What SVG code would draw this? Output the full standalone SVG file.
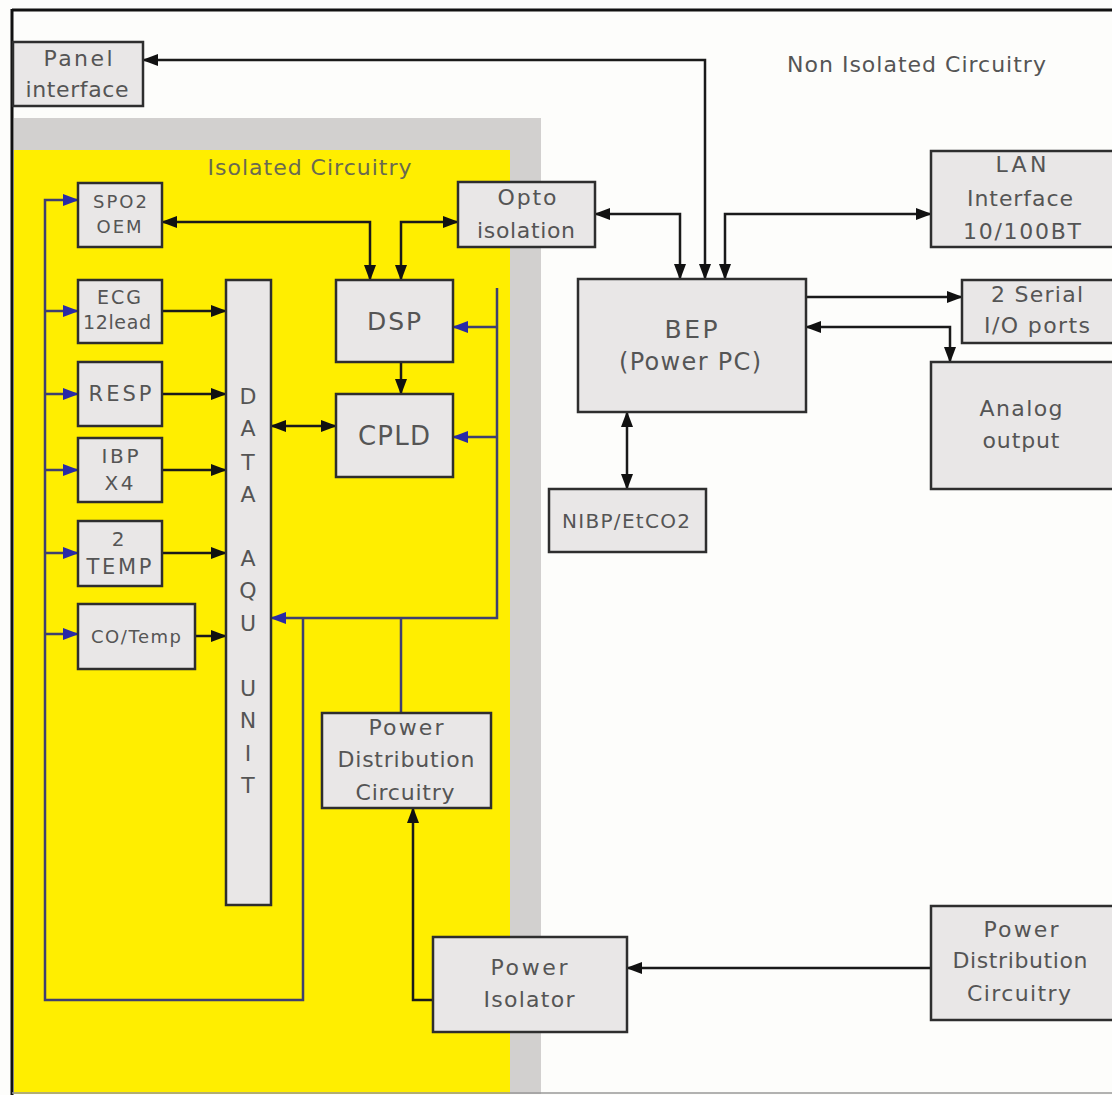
<svg xmlns="http://www.w3.org/2000/svg" width="1112" height="1095" viewBox="0 0 1112 1095">
<style>
.box{fill:#e9e7e7;stroke:#2e2e2e;stroke-width:2.5}
.t{font-family:"DejaVu Sans",sans-serif;fill:#555;text-anchor:middle;font-size:22px}
.s{font-size:18px}
.m{font-size:20px}
.k{fill:none;stroke:#1a1a1a;stroke-width:2.5}
.b{fill:none;stroke:#3f3f70;stroke-width:2.5}
.kd{marker-start:url(#ak);marker-end:url(#ak)}
.ke{marker-end:url(#ak)}
.be{marker-end:url(#abl)}
</style>
<defs>
<marker id="ak" viewBox="0 0 16 12" refX="15" refY="6" markerWidth="16" markerHeight="12" markerUnits="userSpaceOnUse" orient="auto-start-reverse"><path d="M0,0 L16,6 L0,12 z" fill="#111"/></marker>
<marker id="abl" viewBox="0 0 16 12" refX="15" refY="6" markerWidth="16" markerHeight="12" markerUnits="userSpaceOnUse" orient="auto-start-reverse"><path d="M0,0 L16,6 L0,12 z" fill="#2a2aa6"/></marker>
</defs>
<rect x="0" y="0" width="1112" height="1095" fill="#fdfdfb"/>
<g id="regions">
<rect x="14" y="118" width="527" height="976" fill="#d2d0cf"/>
<rect x="14" y="150" width="496" height="944" fill="#ffee00"/>
<line x1="12" y1="10" x2="1112" y2="10" stroke="#111" stroke-width="3"/>
<line x1="12" y1="9" x2="12" y2="1095" stroke="#111" stroke-width="3"/>
<line x1="12" y1="1093" x2="1112" y2="1093" stroke="#999" stroke-width="1.5"/>
<text class="t" x="917" y="72" letter-spacing="1">Non Isolated Circuitry</text>
<text class="t" x="310" y="175" letter-spacing="1" style="fill:#6a6a50">Isolated Circuitry</text>
</g>
<g id="connectors">
<path class="k kd" d="M143,60 H705 V279"/>
<path class="k kd" d="M595,214 H680 V279"/>
<path class="k kd" d="M931,214 H725 V279"/>
<path class="k kd" d="M162,222 H370 V280"/>
<path class="k kd" d="M458,222 H401 V280"/>
<path class="k ke" d="M806,297 H962"/>
<path class="k kd" d="M950,362 V327 H806"/>
<path class="k kd" d="M627,412 V489"/>
<path class="k ke" d="M401,362 V394"/>
<path class="k kd" d="M271,426 H336"/>
<path class="k ke" d="M162,311 H226"/>
<path class="k ke" d="M162,394 H226"/>
<path class="k ke" d="M162,470 H226"/>
<path class="k ke" d="M162,553 H226"/>
<path class="k ke" d="M195,636 H226"/>
<path class="k ke" d="M433,1000 H413 V808"/>
<path class="k ke" d="M931,968 H627"/>
<path class="b be" d="M497,288 V618 H271"/>
<path class="b be" d="M497,327 H453"/>
<path class="b be" d="M497,437 H453"/>
<path class="b" d="M401,713 V618"/>
<path class="b be" d="M303,618 V1000 H45 V200 H78"/>
<path class="b be" d="M45,311 H78"/>
<path class="b be" d="M45,394 H78"/>
<path class="b be" d="M45,470 H78"/>
<path class="b be" d="M45,553 H78"/>
<path class="b be" d="M45,634 H78"/>
</g>
<g id="panel"><rect class="box" x="13" y="42" width="130" height="64"/>
<text class="t" x="78" y="66" textLength="69">Panel</text><text class="t" x="77" y="97" textLength="103">interface</text></g>
<g id="spo2"><rect class="box" x="78" y="183" width="84" height="64"/>
<text class="t s" x="120" y="208" textLength="54">SPO2</text><text class="t s" x="119" y="233" textLength="45">OEM</text></g>
<g id="opto"><rect class="box" x="458" y="182" width="137" height="65"/>
<text class="t" x="527" y="205" textLength="59">Opto</text><text class="t" x="526" y="238" textLength="98">isolation</text></g>
<g id="lan"><rect class="box" x="931" y="151" width="184" height="96"/>
<text class="t" x="1021" y="172" textLength="51">LAN</text><text class="t" x="1020" y="206" textLength="106">Interface</text><text class="t" x="1022" y="239" textLength="118">10/100BT</text></g>
<g id="ecg"><rect class="box" x="78" y="280" width="84" height="63"/>
<text class="t" x="119" y="304" style="font-size:19px" textLength="44">ECG</text><text class="t" x="117" y="329" style="font-size:19px" textLength="68">12lead</text></g>
<g id="daq"><rect class="box" x="226" y="280" width="45" height="625"/>
<text class="t" x="248" y="404">D</text><text class="t" x="248" y="436">A</text><text class="t" x="248" y="470">T</text><text class="t" x="248" y="502">A</text>
<text class="t" x="248" y="566">A</text><text class="t" x="248" y="598">Q</text><text class="t" x="248" y="631">U</text>
<text class="t" x="248" y="696">U</text><text class="t" x="248" y="728">N</text><text class="t" x="248" y="761">I</text><text class="t" x="248" y="793">T</text></g>
<g id="dsp"><rect class="box" x="336" y="280" width="117" height="82"/>
<text class="t" x="394" y="330" style="font-size:25px" textLength="54">DSP</text></g>
<g id="cpld"><rect class="box" x="336" y="394" width="117" height="83"/>
<text class="t" x="394" y="445" style="font-size:26px" textLength="72">CPLD</text></g>
<g id="bep"><rect class="box" x="578" y="279" width="228" height="133"/>
<text class="t" x="691" y="338" style="font-size:25px" textLength="53">BEP</text><text class="t" x="690" y="370" style="font-size:24px" textLength="142">(Power PC)</text></g>
<g id="serial"><rect class="box" x="962" y="280" width="153" height="63"/>
<text class="t" x="1037" y="302" textLength="92">2 Serial</text><text class="t" x="1037" y="333" textLength="106">I/O ports</text></g>
<g id="analog"><rect class="box" x="931" y="362" width="184" height="127"/>
<text class="t" x="1021" y="416" textLength="83">Analog</text><text class="t" x="1021" y="448" textLength="77">output</text></g>
<g id="resp"><rect class="box" x="78" y="362" width="84" height="64"/>
<text class="t" x="120" y="401" style="font-size:21px" textLength="63">RESP</text></g>
<g id="ibp"><rect class="box" x="78" y="438" width="84" height="64"/>
<text class="t m" x="120" y="463" textLength="37">IBP</text><text class="t m" x="119" y="490" textLength="29">X4</text></g>
<g id="temp"><rect class="box" x="78" y="521" width="84" height="65"/>
<text class="t m" x="118" y="546">2</text><text class="t" x="119" y="574" style="font-size:21px" textLength="65">TEMP</text></g>
<g id="cotemp"><rect class="box" x="78" y="604" width="117" height="65"/>
<text class="t s" x="136" y="643" textLength="90">CO/Temp</text></g>
<g id="nibp"><rect class="box" x="549" y="489" width="157" height="63"/>
<text class="t m" x="626" y="528" textLength="128">NIBP/EtCO2</text></g>
<g id="pdc-inner"><rect class="box" x="322" y="713" width="169" height="95"/>
<text class="t" x="406" y="735" textLength="75">Power</text><text class="t" x="406" y="767" textLength="137">Distribution</text><text class="t" x="405" y="800" textLength="99">Circuitry</text></g>
<g id="isolator"><rect class="box" x="433" y="937" width="194" height="95"/>
<text class="t" x="529" y="975" textLength="77">Power</text><text class="t" x="529" y="1007" textLength="91">Isolator</text></g>
<g id="pdc-outer"><rect class="box" x="931" y="906" width="184" height="114"/>
<text class="t" x="1021" y="937" textLength="75">Power</text><text class="t" x="1020" y="968" textLength="135">Distribution</text><text class="t" x="1019" y="1001" textLength="104">Circuitry</text></g>
</svg>
